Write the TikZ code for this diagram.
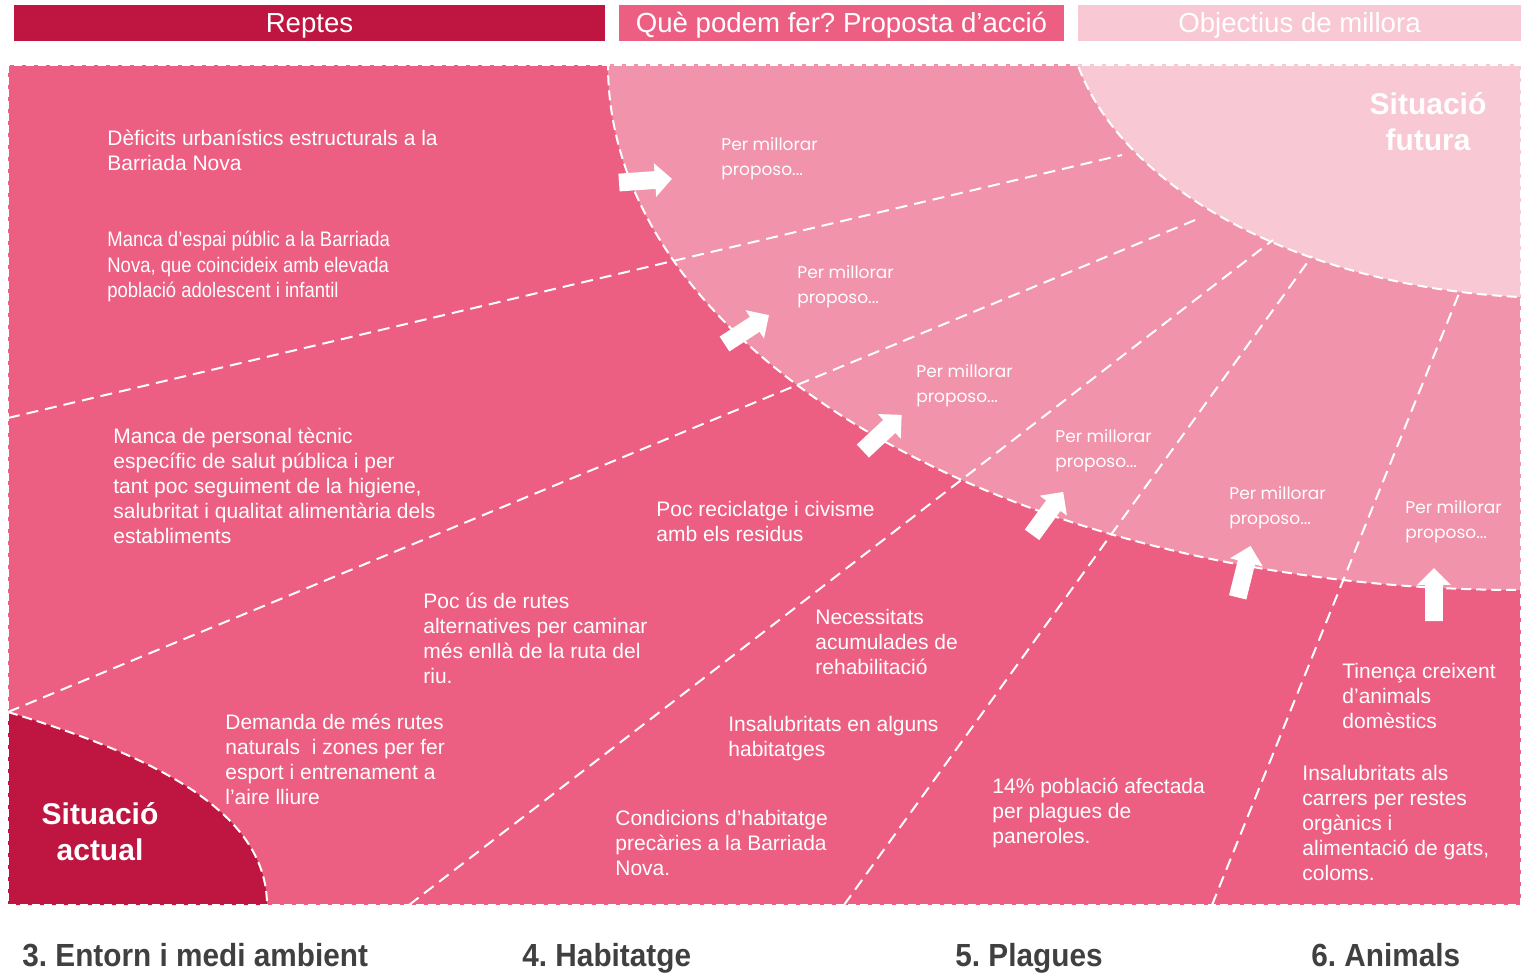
\documentclass[tikz,border=0pt]{standalone}
\usepackage{fontspec}
\setmainfont{Liberation Sans}
\newfontfamily\narrowfont{Liberation Sans}[FakeStretch=0.88]
\newfontfamily\areafont{Liberation Sans}[FakeStretch=0.93]
\newfontfamily\propfont{Poppins}
\usetikzlibrary{shapes.arrows}
\definecolor{crimson}{HTML}{BE1641}
\definecolor{rosemid}{HTML}{EC5F82}
\definecolor{roselight}{HTML}{F193AB}
\definecolor{rosepale}{HTML}{F8C8D4}
\definecolor{labelgray}{HTML}{404040}
\tikzset{
  seam/.style={draw=white, line width=1pt, dash pattern=on 6pt off 3.5pt},
  rim/.style={draw=white, line width=1pt, dash pattern=on 5pt off 2.5pt},
  frame/.style={draw=white, line width=1pt, dash pattern=on 4pt off 2pt},
  bar/.style={minimum height=18pt, inner sep=0pt, text=white, text height=10pt, text depth=0pt,
    font=\fontsize{13.8}{16}\selectfont},
  push/.style={single arrow, fill=white, draw=none, inner sep=0pt, text height=4.25pt, text depth=4.25pt,
    minimum height=26.5pt, minimum width=16.5pt, single arrow head extend=4pt, single arrow tip angle=90},
  issue/.style={text=white, anchor=north west, inner sep=0pt, align=left,
    font=\fontsize{10.5}{12.5}\selectfont},
  idea/.style={text=white, anchor=north west, inner sep=0pt, align=left,
    font=\propfont\fontsize{8.5}{12.5}\selectfont},
  area/.style={text=labelgray, anchor=base west, inner sep=0pt, font=\areafont\bfseries\fontsize{16}{18}\selectfont},
  stage/.style={text=white, inner sep=0pt, align=center, font=\bfseries\fontsize{15}{18}\selectfont}
}

\begin{document}
\begin{tikzpicture}[x=0.5pt, y=-0.5pt]
  \useasboundingbox[fill=white] (0,0) rectangle (1521,973);

  % header
  \node[bar, fill=crimson, minimum width=295.5pt] (reptes) at (309.5,23) {Reptes};
  \node[bar, fill=rosemid, minimum width=222.5pt] (accio) at (841.5,23) {Què podem fer?\ Proposta d’acció};
  \node[bar, fill=rosepale, minimum width=221.5pt] (objectius) at (1299.5,23) {Objectius de millora};

  % regions
  \coordinate (NW) at (8,65);
  \coordinate (SE) at (1521,905);
  \fill[rosemid] (NW) rectangle (SE);
  \begin{scope}
    \clip (NW) rectangle (SE);
    \fill[roselight] (1521,65) ellipse [x radius=913, y radius=525];
    \draw[rim] (1521,65) ellipse [x radius=913, y radius=525];
    \fill[rosepale] (1560,0) ellipse [x radius=494, y radius=298];
    \draw[rim] (1560,0) ellipse [x radius=494, y radius=298];
    \fill[crimson] (8,712) .. controls (150,755) and (267,810) .. (267,905) -- (8,905) -- cycle;
    \draw[rim] (8,712) .. controls (150,755) and (267,810) .. (267,905);
  \end{scope}

  % seams between the areas
  \coordinate (s1a) at (8,418);    \coordinate (s1b) at (1122,155);
  \coordinate (s2a) at (8,712);    \coordinate (s2b) at (1200,218);
  \coordinate (s3a) at (409,905);  \coordinate (s3b) at (1273,240);
  \coordinate (s4a) at (844,905);  \coordinate (s4b) at (1312,256);
  \coordinate (s5a) at (1212,905); \coordinate (s5b) at (1460,291);
  \foreach \i in {1,...,5}
    \draw[seam] (s\i a) -- (s\i b);
  \draw[frame] (NW) rectangle (SE);

  % arrows
  \node[push, rotate=4]  (a1) at (641,181) {};
  \node[push, rotate=33] (a2) at (743,332) {};
  \node[push, rotate=43] (a3) at (879,436) {};
  \node[push, rotate=54] (a4) at (1045,517) {};
  \node[push, rotate=76] (a5) at (1243,576) {};
  \node[push, rotate=90] (a6) at (1434,599) {};

  % situations
  \node[stage] (actual) at (100,832) {Situació\\actual};
  \node[stage] (futura) at (1428,122) {Situació\\futura};

  % challenges
  \node[issue] (r1) at (107,130) {Dèficits urbanístics estructurals a la\\Barriada Nova};
  \node[issue, font=\narrowfont\fontsize{10.5}{12.75}\selectfont] (r2) at (107,231)
    {Manca d’espai públic a la Barriada\\Nova, que coincideix amb elevada\\població adolescent i infantil};
  \node[issue] (r3) at (113,428) {Manca de personal tècnic\\específic de salut pública i per\\tant poc seguiment de la higiene,\\salubritat i qualitat alimentària dels\\establiments};
  \node[issue] (r4) at (656,501) {Poc reciclatge i civisme\\amb els residus};
  \node[issue] (r5) at (423,593) {Poc ús de rutes\\alternatives per caminar\\més enllà de la ruta del\\riu.};
  \node[issue] (r6) at (225,714) {Demanda de més rutes\\naturals~ i zones per fer\\esport i entrenament a\\l’aire lliure};
  \node[issue] (r7) at (815,609) {Necessitats\\acumulades de\\rehabilitació};
  \node[issue] (r8) at (728,716) {Insalubritats en alguns\\habitatges};
  \node[issue] (r9) at (615,810) {Condicions d’habitatge\\precàries a la Barriada\\Nova.};
  \node[issue] (r10) at (992,778) {14\% població afectada\\per plagues de\\paneroles.};
  \node[issue] (r11) at (1342,663) {Tinença creixent\\d’animals\\domèstics};
  \node[issue] (r12) at (1302,765) {Insalubritats als\\carrers per restes\\orgànics i\\alimentació de gats,\\coloms.};

  % proposals
  \node[idea] (p1) at (721,137) {Per millorar\\proposo...};
  \node[idea] (p2) at (797,265) {Per millorar\\proposo...};
  \node[idea] (p3) at (916,364) {Per millorar\\proposo...};
  \node[idea] (p4) at (1055,429) {Per millorar\\proposo...};
  \node[idea] (p5) at (1229,486) {Per millorar\\proposo...};
  \node[idea] (p6) at (1405,500) {Per millorar\\proposo...};

  % areas
  \node[area] (entorn) at (22,966) {3.\ Entorn i medi ambient};
  \node[area] (habitatge) at (522,966) {4.\ Habitatge};
  \node[area] (plagues) at (955,966) {5.\ Plagues};
  \node[area] (animals) at (1311,966) {6.\ Animals};
\end{tikzpicture}
\end{document}
